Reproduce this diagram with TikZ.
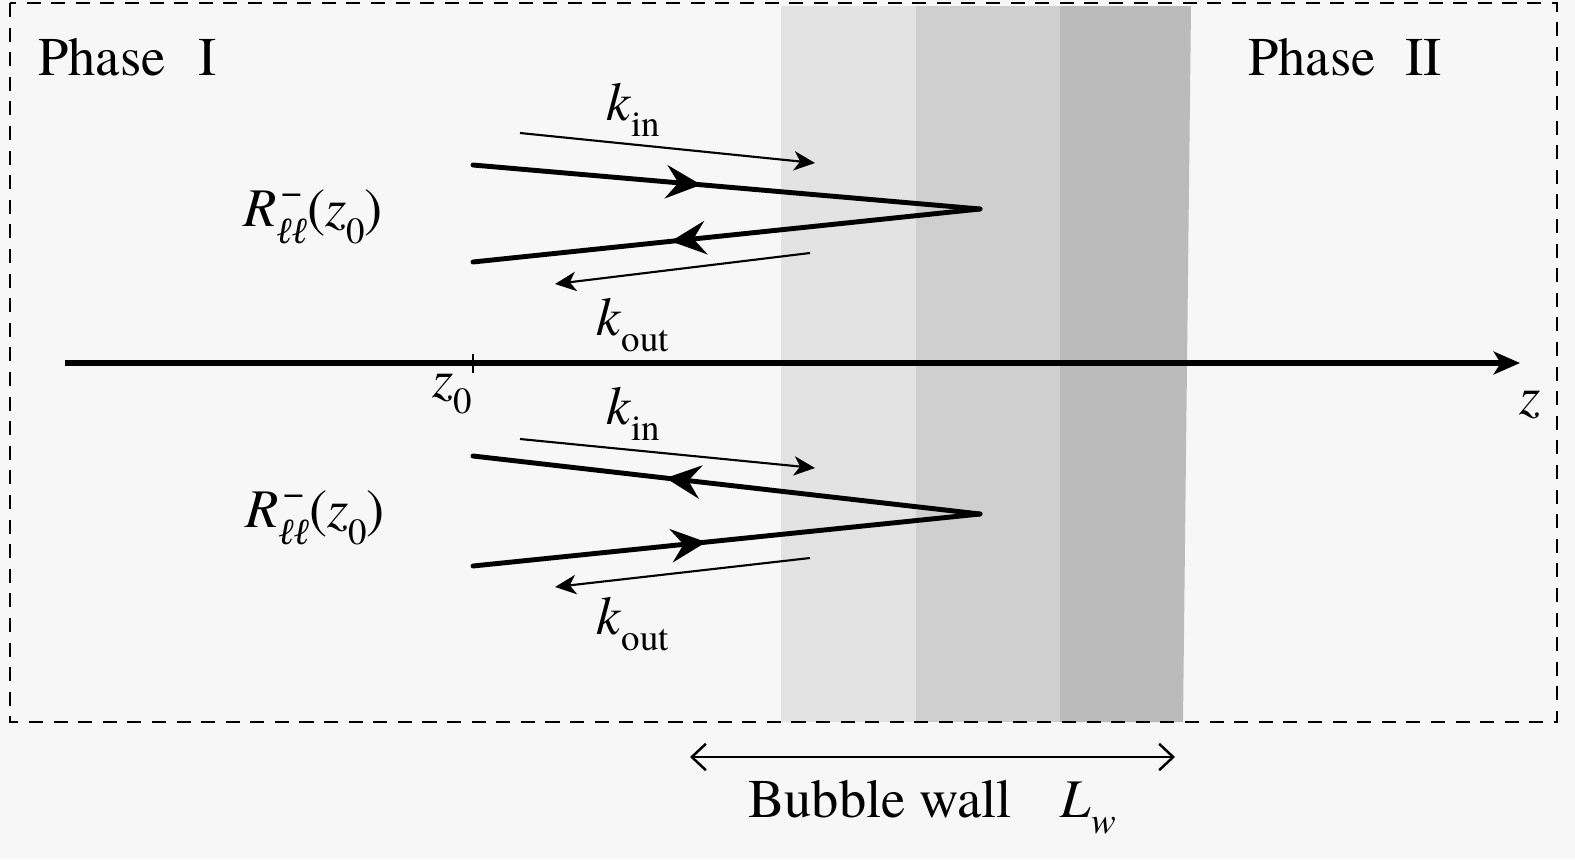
\documentclass[tikz,border=0pt]{standalone}
\usepackage{fontspec}
\setmainfont{TeX Gyre Termes}
\newfontfamily\labelfont{TeX Gyre Termes}
\newfontfamily\ellfont{Liberation Serif}
\usetikzlibrary{arrows.meta,decorations.markings}
\definecolor{bgray}{HTML}{F7F7F7}
\definecolor{wallA}{HTML}{E3E3E3}
\definecolor{wallB}{HTML}{CFCFCF}
\definecolor{wallC}{HTML}{BBBBBB}
\newcommand{\lowtxt}[1]{\raisebox{-0.3em}{\fontsize{21}{24}\selectfont #1}}
\newcommand{\uptxt}[1]{\raisebox{0.42em}{\fontsize{21}{24}\selectfont #1}}
\newcommand{\Rll}{\textit{R}\rlap{\uptxt{\kern0.15em −}}\lowtxt{\ellfont\itshape ℓℓ}(\textit{z}\lowtxt{0})}
\begin{document}
\begin{tikzpicture}[x=0.02cm, y=-0.02cm,
    every node/.style={font=\labelfont\fontsize{31}{36}\selectfont, inner sep=0pt},
    thickray/.style={line width=2.8pt, line cap=round},
    thinray/.style={line width=1.2pt, -{Stealth[length=12pt,width=11pt,inset=3.5pt]}},
    midarr/.style={decoration={markings, mark=at position #1 with {\arrow{Stealth[length=20pt,width=19pt,inset=7pt]}}}, postaction={decorate}}]

    \useasboundingbox (0,0) rectangle (1575,859);
    \fill[bgray] (0,0) rectangle (1575,859);

    % bubble wall
    \fill[wallA] (781,6) rectangle (916,722);
    \fill[wallB] (916,6) rectangle (1060,722);
    \fill[wallC] (1060,6) -- (1191,6) -- (1183,722) -- (1060,722) -- cycle;

    \draw[dashed, dash pattern=on 8pt off 6pt, line width=1.1pt] (10,3) rectangle (1557,722);

    \draw node[anchor=west] (ph1) at (38,57) {Phase\hspace{0.6em}I};
    \draw node[anchor=west] (ph2) at (1248,57) {Phase\hspace{0.55em}II};

    % z axis
    \coordinate (zl) at (65,363);
    \coordinate (zr) at (1520,363);
    \draw[line width=2.9pt, -{Stealth[length=15pt,width=13pt,inset=4pt]}] (zl) -- (zr);
    \coordinate (t1) at (473,354);
    \coordinate (t2) at (473,373);
    \draw[line width=1.2pt] (t1) -- (t2);
    \draw node (z0) at (452,394) {\textit{z}\lowtxt{0}};
    \draw node (z) at (1530,405) {\textit{z}};

    % upper reflection
    \coordinate (ua) at (473,165);
    \coordinate (ub) at (473,262);
    \coordinate (up) at (980,209);
    \draw[thickray, midarr=0.45] (ua) -- (up);
    \draw[thickray, midarr=0.61] (up) -- (ub);
    \coordinate (uin1) at (520,133);
    \coordinate (uin2) at (815,163);
    \draw[thinray] (uin1) -- (uin2);
    \coordinate (uout1) at (810,253);
    \coordinate (uout2) at (555,284);
    \draw[thinray] (uout1) -- (uout2);
    \draw node (kin1) at (633,110) {\textit{k}\lowtxt{in}};
    \draw node (kout1) at (633,325) {\textit{k}\lowtxt{out}};
    \draw node (R1) at (313,217) {\Rll};

    % lower reflection
    \coordinate (la) at (473,456);
    \coordinate (lb) at (473,566);
    \coordinate (lp) at (980,514);
    \draw[thickray, midarr=0.62] (lp) -- (la);
    \draw[thickray, midarr=0.46] (lb) -- (lp);
    \coordinate (lin1) at (520,439);
    \coordinate (lin2) at (815,468);
    \draw[thinray] (lin1) -- (lin2);
    \coordinate (lout1) at (810,558);
    \coordinate (lout2) at (555,587);
    \draw[thinray] (lout1) -- (lout2);
    \draw node (kin2) at (633,414) {\textit{k}\lowtxt{in}};
    \draw node (kout2) at (633,624) {\textit{k}\lowtxt{out}};
    \draw node (R2) at (315,518) {\Rll};

    % wall width
    \coordinate (wl) at (690,757);
    \coordinate (wr) at (1175,757);
    \draw[line width=1.4pt, {Straight Barb[length=8pt,width=15pt]}-{Straight Barb[length=8pt,width=15pt]}] (wl) -- (wr);
    \draw node (bw) at (932,807) {Bubble wall\hspace{0.9em}\textit{L}\lowtxt{\textit{w}}};
\end{tikzpicture}
\end{document}
